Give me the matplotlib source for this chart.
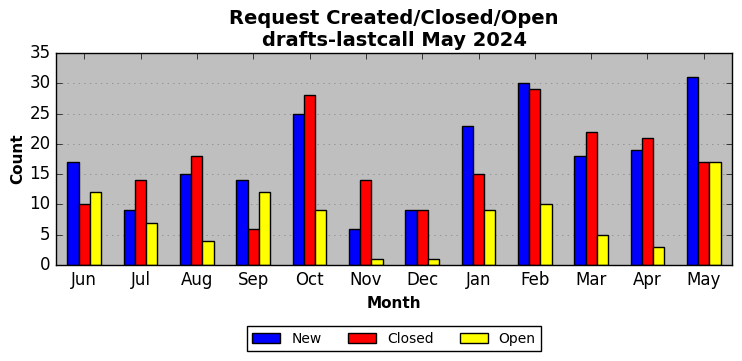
import matplotlib
matplotlib.use("Agg")
import matplotlib.pyplot as plt
import numpy as np

months = ["Jun", "Jul", "Aug", "Sep", "Oct", "Nov", "Dec", "Jan", "Feb", "Mar", "Apr", "May"]
new = [17, 9, 15, 14, 25, 6, 9, 23, 30, 18, 19, 31]
closed = [10, 14, 18, 6, 28, 14, 9, 15, 29, 22, 21, 17]
opened = [12, 7, 4, 12, 9, 1, 1, 9, 10, 5, 3, 17]

plt.style.use("classic")
fig = plt.figure(figsize=(7.42, 3.61), dpi=100)
fig.patch.set_facecolor("white")
ax = fig.add_axes([56 / 742, 1 - 265 / 361, 676 / 742, 212 / 361])
ax.set_facecolor("#bfbfbf")

x = np.arange(len(months))
w = 0.2
ax.bar(x - w, new, w, color="blue", edgecolor="black", label="New", align="center")
ax.bar(x, closed, w, color="red", edgecolor="black", label="Closed", align="center")
ax.bar(x + w, opened, w, color="yellow", edgecolor="black", label="Open", align="center")

ax.set_xticks(x)
ax.set_xticklabels(months)
ax.set_xlim(-0.5, len(months) - 0.5)
ax.set_ylim(0, 35)
ax.yaxis.grid(True, linestyle=":", color="gray")
ax.xaxis.grid(False)
ax.set_axisbelow(True)

ax.set_xlabel("Month", fontweight="bold", fontsize=11)
ax.set_ylabel("Count", fontweight="bold", fontsize=11, labelpad=3)
ax.set_title("Request Created/Closed/Open\ndrafts-lastcall May 2024", fontweight="bold", fontsize=14)

ax.legend(loc="upper center", bbox_to_anchor=(0.5, -0.255), ncol=3, fontsize=10,
          fancybox=False, columnspacing=1.9)

fig.savefig("out.png", dpi=100, facecolor="white")
